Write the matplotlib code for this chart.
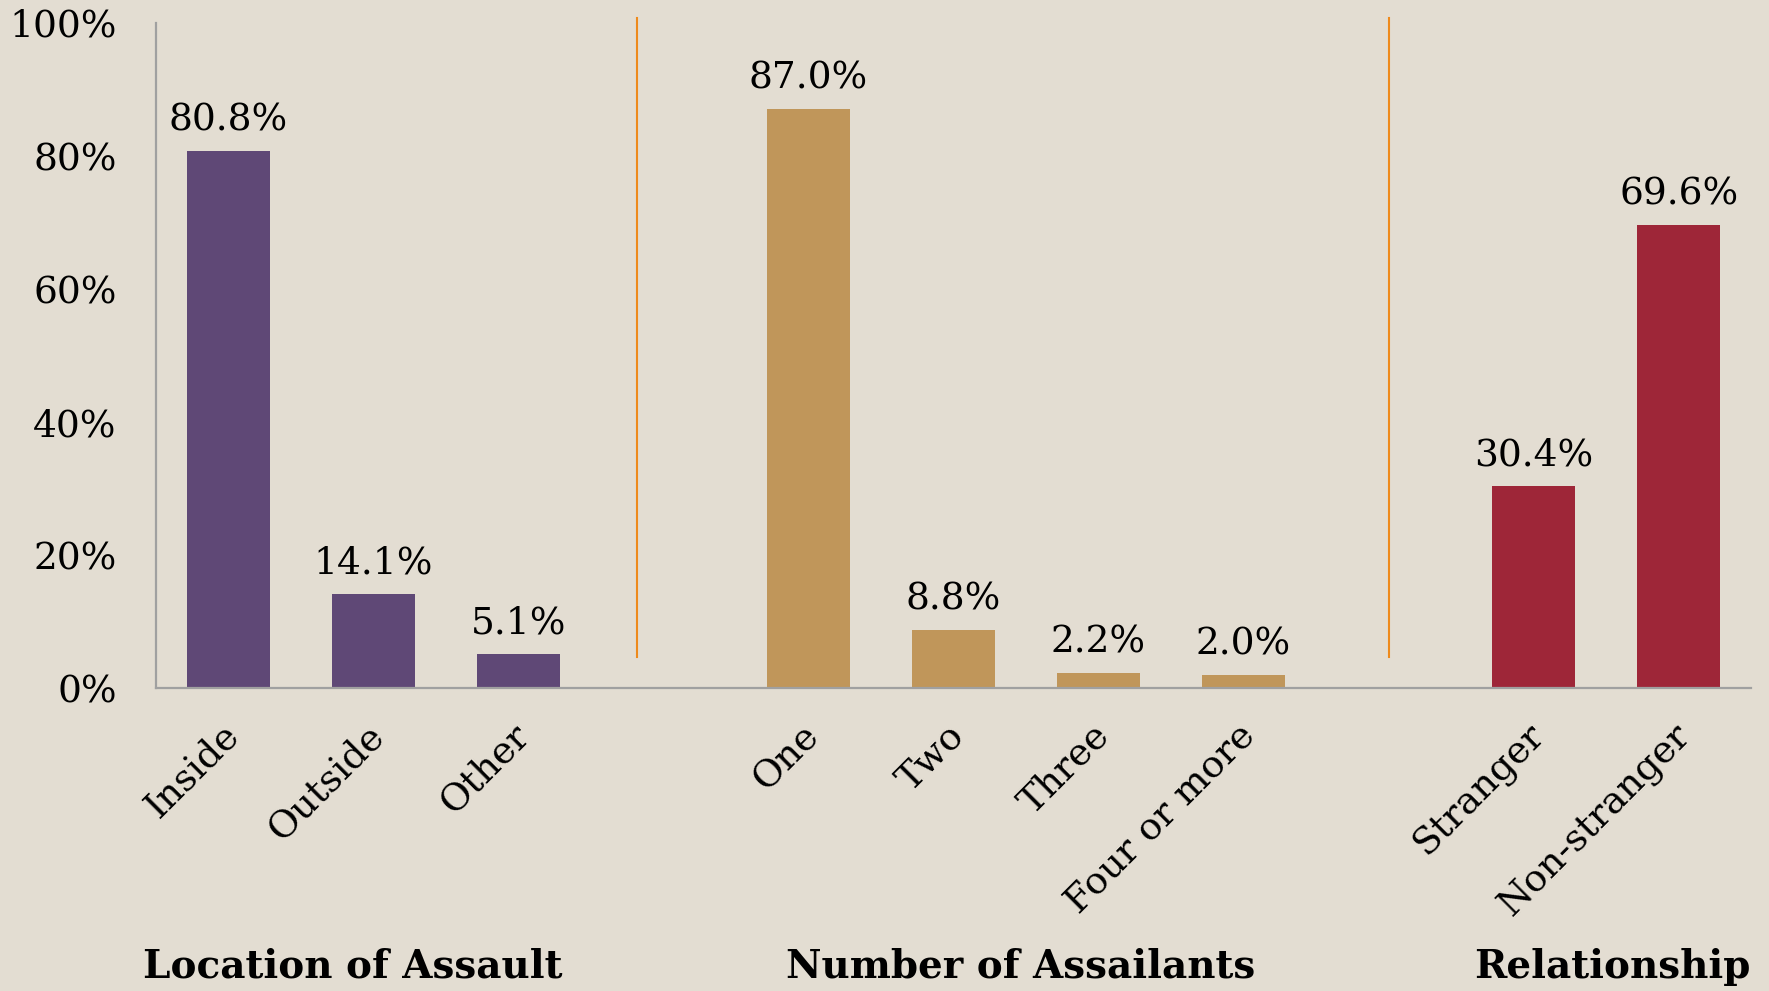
import matplotlib
matplotlib.use("Agg")
import matplotlib.pyplot as plt

categories = ["Inside", "Outside", "Other", "One", "Two", "Three", "Four or more", "Stranger", "Non-stranger"]
values = [80.8, 14.1, 5.1, 87.0, 8.8, 2.2, 2.0, 30.4, 69.6]
groups = ["Location of Assault", "Number of Assailants", "Relationship"]
group_of = [0, 0, 0, 1, 1, 1, 1, 2, 2]
positions = [0, 1, 2, 4, 5, 6, 7, 9, 10]
yticks = [0, 20, 40, 60, 80, 100]

bg = "#E3DDD2"
group_colors = ["#5F4876", "#C0965A", "#9E2638"]

plt.rcParams['font.family'] = ['DejaVu Serif']

fig = plt.figure(figsize=(17.69, 9.91), dpi=100, facecolor=bg)
ax = fig.add_axes([0.088, 0.3057, 0.902, 0.6711])
ax.set_facecolor(bg)

for p, v, g in zip(positions, values, group_of):
    ax.bar(p, v, width=0.57, color=group_colors[g], zorder=2)
    ax.annotate(f"{v:.1f}%", xy=(p, v), xytext=(0, 9), textcoords="offset points",
                ha="center", va="bottom", fontsize=27, color="black")

ax.set_xlim(-0.5, 10.5)
ax.set_ylim(0, 100)
ax.set_yticks(yticks)
ax.set_yticklabels([f"{t}%" for t in yticks], fontsize=27)
ax.tick_params(axis='y', length=0, pad=28)
ax.set_xticks([])

for s in ["top", "right"]:
    ax.spines[s].set_visible(False)
for s in ["left", "bottom"]:
    ax.spines[s].set_color("#A0A0A0")
    ax.spines[s].set_linewidth(1.6)

# separators
for xsep in [2.82, 8.0]:
    ax.plot([xsep, xsep], [4.66, 100.75], color="#EE8A1C", lw=1.5, clip_on=False, zorder=3)

# category labels
for p, c in zip(positions, categories):
    ax.annotate(c, xy=(p, 0), xytext=(4, -30), textcoords="offset points",
                ha="right", va="center", rotation=45, rotation_mode="anchor",
                fontsize=27, color="black", annotation_clip=False)

# group titles
group_x = [0.86, 5.46, 9.54]
for gx, gname in zip(group_x, groups):
    xf = ax.transData.transform((gx, 0))[0] / fig.bbox.width
    fig.text(xf, 1 - 967 / 991, gname, ha="center", va="center",
             fontsize=28, fontweight="bold", color="black")

fig.savefig("out.png", dpi=100, facecolor=bg)
